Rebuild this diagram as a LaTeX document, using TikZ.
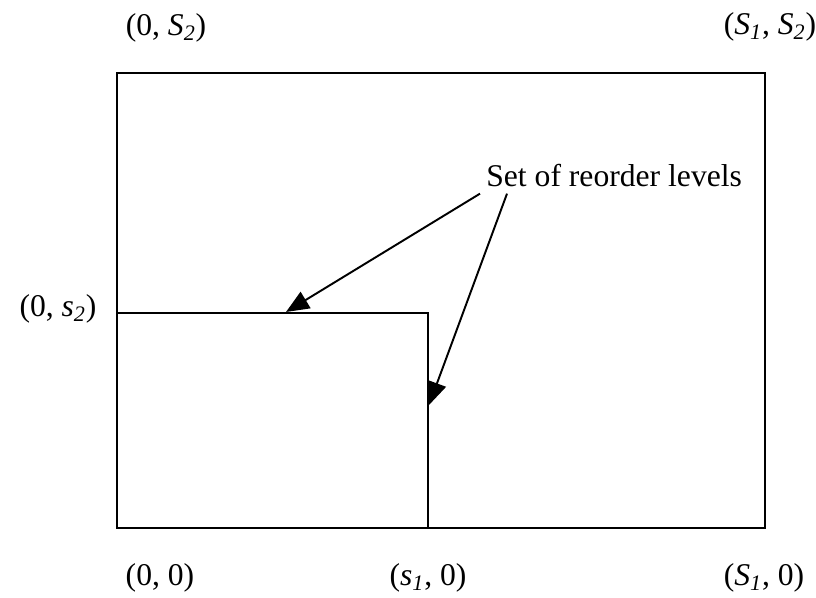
\documentclass[tikz,border=0pt]{standalone}
\usepackage{fontspec}
\setmainfont{Liberation Serif}
\usetikzlibrary{arrows.meta}
\newcommand{\ix}[2]{\textit{#1}\textsubscript{\textit{#2}}}
\begin{document}
\begin{tikzpicture}[every node/.style={font=\fontsize{18}{20}\selectfont},
    lvl/.style={-{Triangle[length=0.46cm,width=0.38cm]},line width=1.1pt}]
        \useasboundingbox (0,0) rectangle (16.32,11.96);
        % regions
        \draw[line width=1.1pt] (2.34,1.40) rectangle (15.30,10.50);
        \draw[line width=1.1pt] (2.34,5.70) -- (8.56,5.70) -- (8.56,1.40);
        % corner labels
        \node (TL) at (3.32,11.40) {(0, \ix{S}{2})};
        \node (TR) at (15.40,11.42) {(\ix{S}{1}, \ix{S}{2})};
        \node (ML) at (1.16,5.78) {(0, \ix{s}{2})};
        \node (BL) at (3.20,0.40) {(0, 0)};
        \node (BM) at (8.56,0.40) {(\ix{s}{1}, 0)};
        \node (BR) at (15.28,0.40) {(\ix{S}{1}, 0)};
        % reorder levels
        \node[anchor=base west,inner sep=0.12cm] (lvls) at (9.60,8.22) {Set of reorder levels};
        \coordinate (tipA) at (5.72,5.72);
        \coordinate (tipB) at (8.58,3.86);
        \draw[lvl] (lvls.south west) -- (tipA);
        \draw[lvl] ([xshift=0.54cm]lvls.south west) -- (tipB);
    \end{tikzpicture}
\end{document}
